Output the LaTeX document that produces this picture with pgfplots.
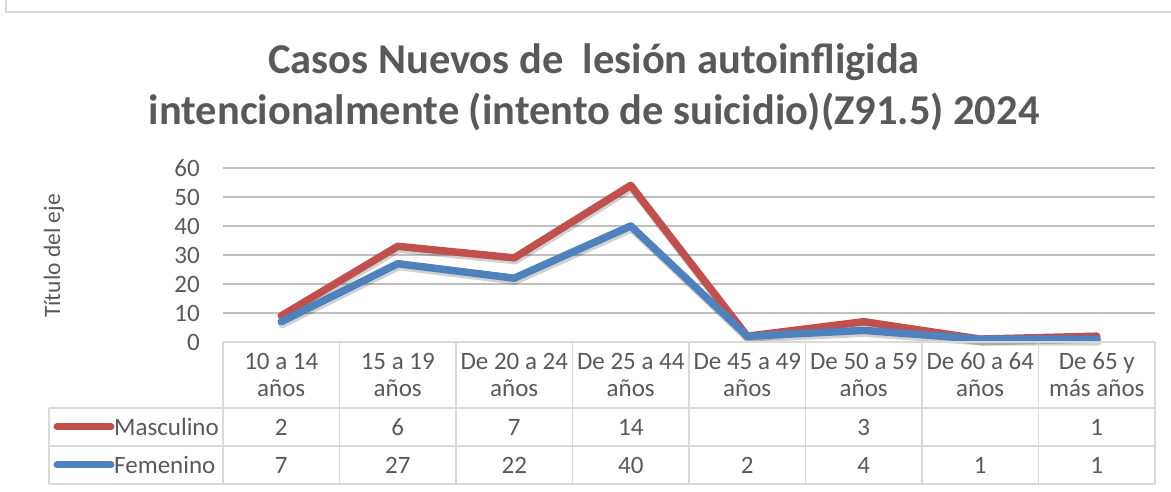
\documentclass[border=0pt]{standalone}
\usepackage{pgfplots}
\pgfplotsset{compat=1.18}
\usepackage{fontspec}
\setmainfont{Carlito}
\definecolor{txt}{HTML}{595959}
\definecolor{grid}{HTML}{D9D9D9}
\definecolor{fem}{HTML}{4F81BD}
\definecolor{masc}{HTML}{C0504D}
\begin{document}
\begin{tikzpicture}[x=1pt,y=1pt]
\useasboundingbox (0,0) rectangle (1171,492);
% chart frame
\draw[grid, line width=1.5pt] (6,492) -- (6,480) -- (1171,480);
% title
\node[txt, font=\bfseries\fontsize{42.5}{51}\selectfont, align=center] at (594,405)
  {Casos Nuevos de \ lesión autoinfligida\\intencionalmente (intento de suicidio)(Z91.5) 2024};
\node[txt, rotate=90, font=\fontsize{23.5}{28}\selectfont] at (54,236) {Título del eje};
\begin{axis}[
  at={(223pt,150pt)}, anchor=south west,
  scale only axis, width=932pt, height=174pt,
  xmin=0, xmax=8, ymin=0, ymax=60,
  xtick=\empty,
  ytick={0,10,20,30,40,50,60},
  ymajorgrids=true,
  grid style={grid, line width=1.3pt},
  axis line style={draw=none},
  major tick style={draw=none},
  yticklabel style={txt, font=\fontsize{25}{28}\selectfont, inner sep=0pt, anchor=east, xshift=-23pt,
    /pgf/number format/assume math mode=true},
  stack plots=y,
  clip=false,
]
% Femenino (bottom)
\addplot[fem, line width=7.5pt, line join=round, line cap=round,
  preaction={draw, black, opacity=0.18, line width=8pt, transform canvas={xshift=1pt, yshift=-2.5pt}}]
  coordinates {(0.5,7)(1.5,27)(2.5,22)(3.5,40)(4.5,2)(5.5,4)(6.5,1)(7.5,1)};
% Masculino (stacked on Femenino)
\addplot[masc, line width=7.5pt, line join=round, line cap=round,
  preaction={draw, black, opacity=0.18, line width=8pt, transform canvas={xshift=1pt, yshift=-2.5pt}}]
  coordinates {(0.5,2)(1.5,6)(2.5,7)(3.5,14)(4.5,0)(5.5,3)(6.5,0)(7.5,1)};
\end{axis}
% data table
\begin{scope}[grid, line width=1.5pt]
  \draw (223,150) -- (1155,150);
  \draw (49,84) -- (1155,84);
  \draw (49,46) -- (1155,46);
  \draw (49,8) -- (1155,8);
  \draw (49,84) -- (49,8);
  \foreach \k in {0,...,8} {\draw ({223+116.5*\k},150) -- ({223+116.5*\k},8);}
\end{scope}
\begin{scope}[txt, every node/.style={font=\fontsize{25}{27}\selectfont, align=center}]
  \foreach \lab [count=\i from 0] in {10 a 14\\años, 15 a 19\\años, De 20 a 24\\años, De 25 a 44\\años,
      De 45 a 49\\años, De 50 a 59\\años, De 60 a 64\\años, De 65 y\\más años}
    {\node at ({223+116.5*\i+58.25},117) {\lab};}
  \foreach \v [count=\i from 0] in {2,6,7,14,{},3,{},1}
    {\node at ({223+116.5*\i+58.25},65) {\v};}
  \foreach \v [count=\i from 0] in {7,27,22,40,2,4,1,1}
    {\node at ({223+116.5*\i+58.25},27) {\v};}
  \draw[masc, line width=7pt, line cap=round] (57,65) -- (111,65);
  \draw[fem, line width=7pt, line cap=round] (57,27) -- (111,27);
  \node[anchor=west, inner sep=0pt] at (114,65) {Masculino};
  \node[anchor=west, inner sep=0pt] at (114,27) {Femenino};
\end{scope}
\end{tikzpicture}
\end{document}
